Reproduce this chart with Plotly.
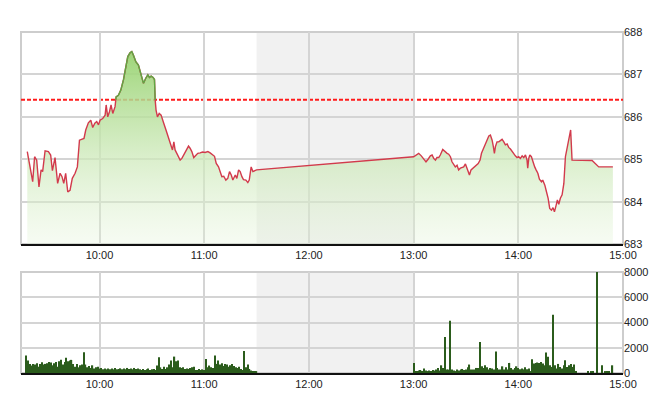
import plotly.graph_objects as go
import pandas as pd

# ---------------- data ----------------
DAY = "2017-03-01"
OPEN = "09:15"          # minutes below are counted from this time
REF_PRICE = 686.4       # reference (previous close) level

price_minutes = [
    3.6, 5.2, 6.7, 7.8, 9.0, 10.3, 11.5, 12.4, 13.8, 15.7, 17.0, 18.0, 19.5, 21.0, 22.4,
    23.5, 24.5, 25.6, 26.8, 28.1, 29.4, 31.0, 32.3, 33.5, 34.8, 36.1, 37.1, 38.6, 40.0,
    41.1, 42.3, 43.4, 44.4, 45.3, 46.8, 48.2, 48.8, 49.7, 50.7, 51.6, 52.6, 53.9, 54.5,
    55.8, 57.2, 58.7, 60.2, 61.2, 62.5, 63.5, 64.4, 65.8, 67.3, 68.3, 69.2, 70.2, 71.5,
    72.7, 73.6, 74.6, 75.7, 76.5, 76.9, 77.4, 78.2, 79.2, 80.3, 81.1, 81.8, 83.0, 84.1,
    85.1, 86.0, 86.8, 87.6, 88.3, 89.3, 90.2, 91.2, 92.2, 93.7, 95.0, 96.0, 96.9, 97.9,
    99.0, 100.2, 101.3, 102.7, 104.0, 105.5, 107.1, 108.4, 109.7, 110.9, 111.9, 113.2,
    114.1, 115.1, 116.2, 117.4, 118.5, 119.5, 120.5, 121.4, 122.8, 123.7, 124.7, 125.6,
    126.6, 127.5, 128.9, 130.0, 130.8, 131.9, 132.9, 134.2, 135.0,
    225.0, 227.9, 229.4, 230.8, 232.1, 233.3, 234.6, 235.6, 236.5, 237.5, 238.4, 239.4,
    240.3, 241.7, 242.8, 244.2, 245.1, 246.1, 247.0, 248.0, 248.9, 249.9, 250.8, 251.8,
    252.8, 253.7, 254.7, 255.6, 256.2, 257.0, 257.9, 259.1, 260.4, 262.0, 263.1, 263.9,
    264.8, 265.8, 267.1, 268.1, 269.0, 270.0, 270.7, 271.3, 271.9, 272.8, 273.8, 274.8,
    275.7, 276.7, 277.6, 278.6, 279.5, 280.5, 281.4, 282.4, 283.3, 284.3, 285.2, 286.2,
    287.2, 288.1, 289.1, 290.0, 290.4, 291.0, 291.6, 292.5, 293.3, 294.4, 295.2, 296.2,
    297.1, 298.3, 299.0, 300.2, 301.1, 302.1, 303.0, 304.0, 304.9, 305.7, 306.7, 307.4,
    308.2, 309.1, 310.1, 311.1, 312.0, 313.0, 313.9, 315.0, 315.8, 321.6, 327.3, 331.1,
    339.2,
]
price_values = [
    685.18, 684.82, 684.47, 685.06, 684.98, 684.35, 684.75, 684.71, 685.20, 685.18, 685.10,
    684.73, 685.04, 684.43, 684.67, 684.59, 684.43, 684.67, 684.23, 684.27, 684.55, 684.67,
    684.82, 685.45, 685.47, 685.49, 685.69, 685.86, 685.92, 685.75, 685.85, 685.89, 685.81,
    685.92, 685.96, 686.04, 686.28, 686.00, 686.12, 686.28, 686.08, 686.24, 686.47, 686.51,
    686.63, 686.87, 687.18, 687.42, 687.51, 687.54, 687.46, 687.30, 687.22, 687.06, 686.95,
    686.79, 686.91, 686.99, 686.93, 686.96, 686.93, 686.88, 686.40, 686.16, 686.00, 686.08,
    686.04, 685.96, 685.85, 685.70, 685.57, 685.45, 685.36, 685.22, 685.41, 685.22, 685.14,
    685.06, 684.98, 685.02, 685.14, 685.23, 685.31, 685.26, 685.18, 685.04, 685.10, 685.14,
    685.15, 685.17, 685.16, 685.18, 685.15, 685.10, 685.07, 684.90, 684.82, 684.71, 684.59,
    684.60, 684.51, 684.55, 684.71, 684.63, 684.51, 684.63, 684.55, 684.75, 684.71, 684.59,
    684.52, 684.51, 684.45, 684.51, 684.82, 684.71, 684.73, 684.75,
    685.06, 685.14, 685.08, 685.02, 684.94, 685.00, 685.08, 685.10, 685.02, 684.98, 685.04,
    685.04, 685.10, 685.23, 685.18, 685.14, 685.12, 685.06, 684.94, 684.86, 684.82, 684.86,
    684.75, 684.79, 684.81, 684.82, 684.89, 684.79, 684.71, 684.63, 684.75, 684.79, 684.84,
    684.90, 684.98, 685.14, 685.23, 685.34, 685.44, 685.55, 685.57, 685.45, 685.30, 685.14,
    685.30, 685.41, 685.41, 685.44, 685.47, 685.41, 685.34, 685.36, 685.28, 685.24, 685.18,
    685.14, 685.08, 685.04, 685.06, 685.02, 685.08, 685.04, 685.10, 684.98, 684.79, 685.02,
    685.10, 685.06, 684.94, 684.82, 684.75, 684.67, 684.53, 684.47, 684.51, 684.39, 684.24,
    684.08, 683.84, 683.80, 683.86, 683.76, 683.92, 684.04, 683.94, 684.08, 684.16, 684.43,
    685.06, 685.30, 685.49, 685.69, 684.98, 684.97, 684.97, 684.82, 684.82,
]

# volume, one value per minute
am_vol_start = "09:18"
am_vol = [
    1390, 990, 720, 590, 720, 670, 770, 500, 720, 850, 670, 720, 770, 880, 830, 610, 770,
    880, 500, 930, 1040, 670, 880, 1200, 930, 990, 1040, 720, 500, 720, 450, 610, 670, 1650,
    670, 450, 560, 400, 610, 350, 450, 500, 350, 400,
    290, 350, 290, 350, 290, 350, 290, 400, 290, 320, 370, 290, 350, 290, 400, 320, 350,
    290, 400, 320, 350,
    290, 240, 320, 240, 290, 350, 240, 290, 320, 240, 590,
    1250, 450, 320, 500, 320, 450, 670, 990, 450, 1300, 930, 990, 450, 400, 450, 320, 350,
    320, 400, 450, 500, 240, 240, 320, 240, 290, 240, 1100, 450, 590, 450, 400, 1390, 720,
    990, 670, 770, 560, 720, 670, 500, 610, 720, 560, 450, 400, 500, 320, 240, 1750, 450,
    670, 320, 190, 130, 100, 80,
]
pm_vol_start = "13:00"
pm_vol = [
    800, 80, 130, 190, 240, 130, 350, 190, 80, 190, 130, 240, 190, 270, 400, 190, 610, 400,
    2850, 270, 270, 4150, 270, 190, 130, 270, 190, 270, 320, 240, 270, 450, 670, 270, 270,
    270, 400, 400, 2450, 530, 400, 610, 450, 270, 400, 350, 270, 1700, 400, 270, 270, 530,
    270, 450, 270, 800, 400, 270, 400, 530, 400, 290, 350, 290, 450, 290, 350, 130, 1090,
    750, 800, 830, 800, 880, 750, 610, 1630, 1280, 610, 480, 4610, 610, 350, 720, 480, 350,
    610, 1010, 480, 610, 720, 480, 670, 130, 0, 0, 0, 0, 0, 0, 100, 0, 120, 100, 0, 8000, 0,
    0, 610, 0, 130, 80, 130, 0, 610,
]

price_ticks = [683, 684, 685, 686, 687, 688]
vol_ticks = [0, 2000, 4000, 6000, 8000]
lunch_start, lunch_end = "11:30", "13:00"
x_start, x_end = "09:15", "15:00"

# ---------------- derived ----------------
def ts(hm):
    return pd.Timestamp(f"{DAY} {hm}")

def tstr(hm):
    return f"{DAY} {hm}"

base = ts(OPEN)

# insert crossing points with the reference level so the line can change colour there
mx, my = [], []
for i, (m, p) in enumerate(zip(price_minutes, price_values)):
    if i > 0:
        pm_, pp_ = price_minutes[i - 1], price_values[i - 1]
        if (pp_ - REF_PRICE) * (p - REF_PRICE) < 0:
            f = (REF_PRICE - pp_) / (p - pp_)
            mx.append(pm_ + f * (m - pm_))
            my.append(REF_PRICE)
    mx.append(m)
    my.append(p)

px_time = [(base + pd.Timedelta(seconds=round(m * 60))).strftime("%Y-%m-%d %H:%M:%S")
           for m in mx]
green_y = [v if v >= REF_PRICE - 1e-9 else None for v in my]

am_t = [(ts(am_vol_start) + pd.Timedelta(minutes=i)).strftime("%Y-%m-%d %H:%M")
        for i in range(len(am_vol))]
pm_t = [(ts(pm_vol_start) + pd.Timedelta(minutes=i)).strftime("%Y-%m-%d %H:%M")
        for i in range(len(pm_vol))]

# ---------------- figure ----------------
fig = go.Figure()

fig.add_trace(go.Scatter(
    x=px_time, y=my, mode="lines", line=dict(width=0), fill="tozeroy",
    fillgradient=dict(type="vertical", start=683, stop=687.6,
                      colorscale=[[0, "rgba(226,243,214,0.30)"],
                                  [0.45, "rgba(205,233,185,0.75)"],
                                  [1, "rgba(150,210,110,0.95)"]]),
    hoverinfo="skip", showlegend=False, xaxis="x", yaxis="y"))

fig.add_trace(go.Scatter(
    x=px_time, y=my, mode="lines", line=dict(color="#d23a4c", width=1.4),
    showlegend=False, xaxis="x", yaxis="y"))

fig.add_trace(go.Scatter(
    x=px_time, y=green_y, mode="lines", line=dict(color="#5ea844", width=1.4),
    connectgaps=False, showlegend=False, xaxis="x", yaxis="y"))

fig.add_trace(go.Bar(
    x=am_t + pm_t, y=am_vol + pm_vol, marker=dict(color="#2b5c1c", line=dict(width=0)),
    showlegend=False, xaxis="x2", yaxis="y2"))

grid = "#d4d4d4"
tickfont = dict(family="Liberation Sans, Arial, sans-serif", size=11, color="#222222")
xcommon = dict(
    type="date", range=[tstr(x_start), tstr(x_end)], tickformat="%H:%M",
    tick0=tstr("10:00"), dtick=3600000, showgrid=True, gridcolor=grid, gridwidth=2,
    showline=True, linecolor="#111111", linewidth=2, ticks="", tickfont=tickfont,
    zeroline=False, fixedrange=True, automargin=False,
)
ycommon = dict(side="right", showgrid=True, gridcolor=grid, gridwidth=2, ticks="",
               tickfont=tickfont, zeroline=False, showline=False, automargin=False)

top_dom = [0.378, 1.0]
bot_dom = [0.0, 0.296]

shapes = []
for xr, yr in (("x", "y"), ("x2", "y2")):
    shapes.append(dict(type="rect", xref=xr, yref=f"{yr} domain",
                       x0=tstr(lunch_start), x1=tstr(lunch_end), y0=0, y1=1,
                       fillcolor="#f1f1f1", line=dict(width=0), layer="below"))
    shapes.append(dict(type="rect", xref=f"{xr} domain", yref=f"{yr} domain",
                       x0=0, x1=1, y0=0, y1=1, fillcolor="rgba(0,0,0,0)",
                       line=dict(color="#cdcdcd", width=2), layer="below"))
shapes.append(dict(type="line", xref="x domain", yref="y", x0=0, x1=1,
                   y0=REF_PRICE, y1=REF_PRICE,
                   line=dict(color="#ff1a1a", width=2, dash="4px,2px"), layer="below"))

# the page body adds an 8px offset, so the figure is sized to fit inside 660x412
fig.update_layout(
    width=652, height=404,
    margin=dict(l=13, r=37, t=24, b=39, autoexpand=False),
    paper_bgcolor="white", plot_bgcolor="white",
    showlegend=False, bargap=0.3,
    xaxis=dict(domain=[0, 1], anchor="y", **xcommon),
    xaxis2=dict(domain=[0, 1], anchor="y2", **xcommon),
    yaxis=dict(domain=top_dom, anchor="x", range=[683, 688], tickvals=price_ticks,
               **ycommon),
    yaxis2=dict(domain=bot_dom, anchor="x2", range=[0, 8000], tickvals=vol_ticks,
                **ycommon),
    shapes=shapes,
)

fig.write_html("out.html")
